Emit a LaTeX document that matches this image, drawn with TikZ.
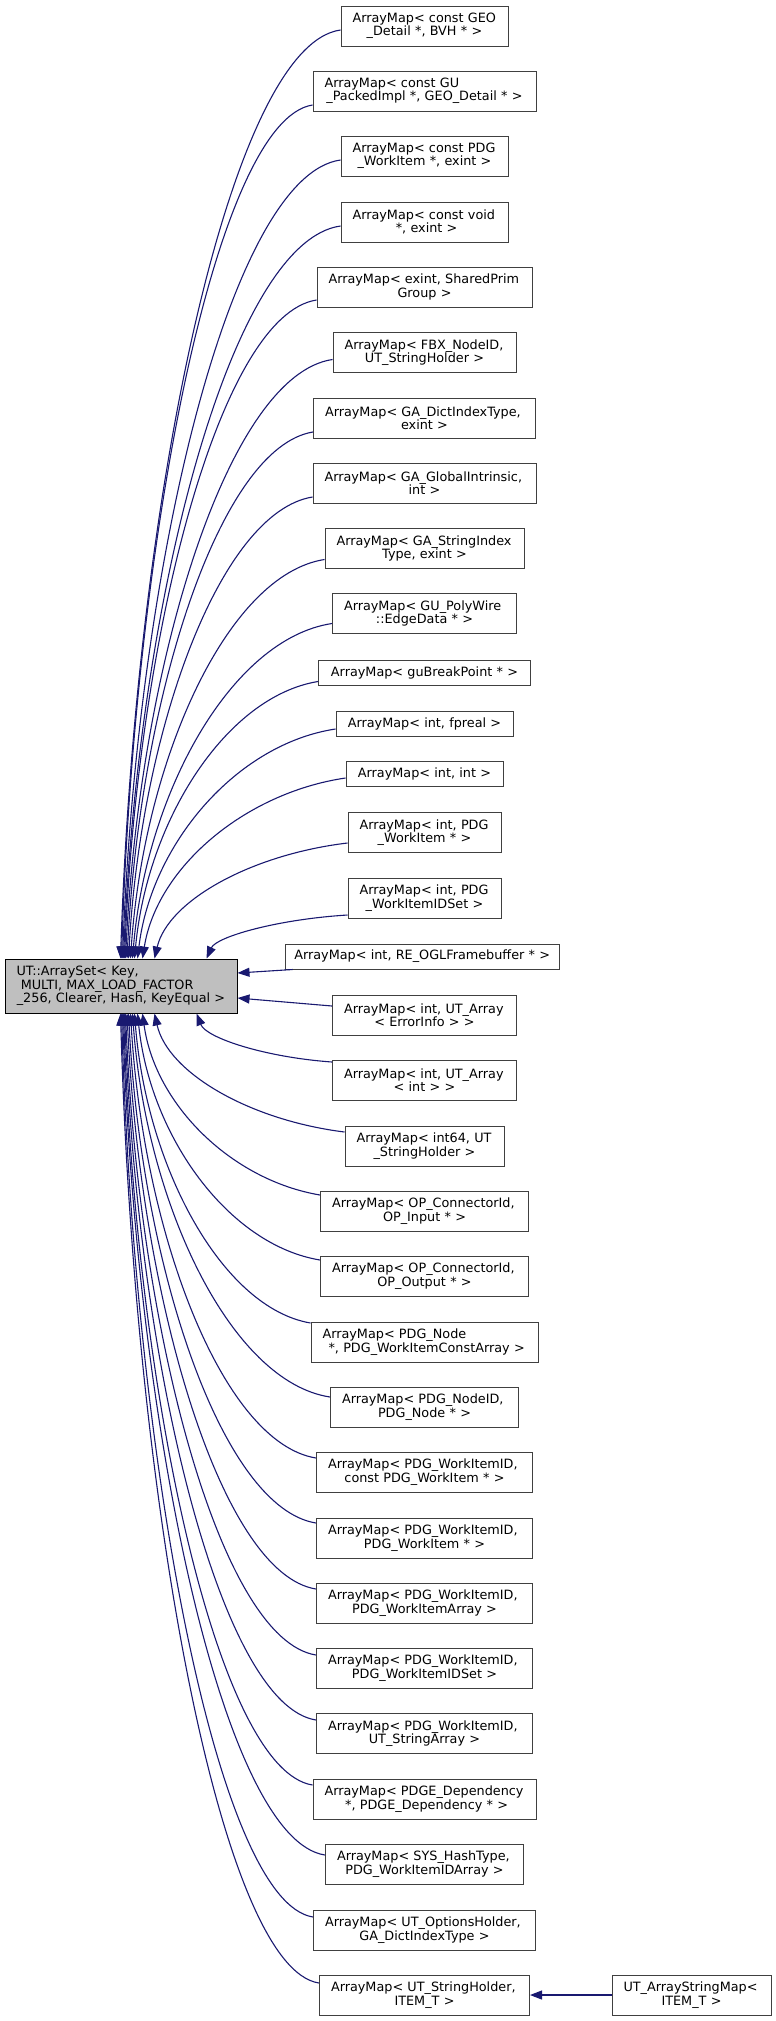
\documentclass[tikz,border=0pt]{standalone}
\usepackage{fontspec}
\setmainfont{DejaVu Sans}
\usetikzlibrary{arrows.meta,calc}
\definecolor{navy}{HTML}{191970}
\definecolor{boxgray}{HTML}{404040}
\definecolor{mainfill}{HTML}{BFBFBF}
\newcommand\LLine[1]{\makebox[\hsize][l]{#1}}
\newcommand\CLine[1]{\makebox[\hsize][c]{#1}}
\tikzset{
  cls/.style={draw=boxgray, line width=1pt, fill=white, inner sep=0pt, minimum height=40pt, align=left, font=\fontsize{12.8}{13.5}\selectfont},
  one/.style={minimum height=25pt},
  bw/.code={\pgfmathsetmacro\tw{#1-23}\edef\tmp{\noexpand\tikzset{minimum width=#1pt, text width=\tw pt}}\tmp},
  root/.style={cls, draw=black, fill=mainfill, minimum height=54pt},
  edge/.style={draw=navy, line width=1.1pt, -{Triangle[length=12pt,width=9pt]}}
}
\newcommand\upedge[3]{\draw[edge] let \p1=([yshift=#2pt]#1.west), \p2=([xshift=#3pt]main.north west) in (\p1) .. controls ({\x1-0.5*(\x1-\x2)},{\y1-min(15pt,0.1*(\y1-\y2))}) and ({\x2+0.07*(\x1-\x2)},{0.5*(\y1+\y2)}) .. (\p2);}
\newcommand\downedge[3]{\draw[edge] let \p1=([yshift=#2pt]#1.west), \p2=([xshift=#3pt]main.south west) in (\p1) .. controls ({\x1-0.5*(\x1-\x2)},{\y1+min(15pt,0.1*(\y2-\y1))}) and ({\x2+0.07*(\x1-\x2)},{0.5*(\y1+\y2)}) .. (\p2);}
\begin{document}
\begin{tikzpicture}[x=1pt,y=-1pt]
\path[use as bounding box] (0,0) rectangle (776,2021);
\node[root, bw=232] (main) at (121,986) {\LLine{UT::ArraySet< Key,}\\\LLine{\ MULTI, MAX\_LOAD\_FACTOR}\\\CLine{\_256, Clearer, Hash, KeyEqual >}};
\node[cls, bw=167] (b1) at (424.5,26) {\LLine{ArrayMap< const GEO}\\\CLine{\_Detail *, BVH * >}};
\node[cls, bw=223] (b2) at (424.5,91) {\LLine{ArrayMap< const GU}\\\CLine{\_PackedImpl *, GEO\_Detail * >}};
\node[cls, bw=167] (b3) at (424.5,156) {\LLine{ArrayMap< const PDG}\\\CLine{\_WorkItem *, exint >}};
\node[cls, bw=167] (b4) at (424.5,222) {\LLine{ArrayMap< const void}\\\CLine{\ *, exint >}};
\node[cls, bw=215] (b5) at (424.5,287) {\LLine{ArrayMap< exint, SharedPrim}\\\CLine{Group >}};
\node[cls, bw=183] (b6) at (424.5,352.5) {\LLine{ArrayMap< FBX\_NodeID,}\\\CLine{UT\_StringHolder >}};
\node[cls, bw=222] (b7) at (424.5,418) {\LLine{ArrayMap< GA\_DictIndexType,}\\\CLine{exint >}};
\node[cls, bw=223] (b8) at (424.5,483) {\LLine{ArrayMap< GA\_GlobalIntrinsic,}\\\CLine{int >}};
\node[cls, bw=199] (b9) at (424.5,548.5) {\LLine{ArrayMap< GA\_StringIndex}\\\CLine{Type, exint >}};
\node[cls, bw=184] (b10) at (424.5,613.5) {\LLine{ArrayMap< GU\_PolyWire}\\\CLine{::EdgeData * >}};
\node[cls, one, bw=212] (b11) at (424.5,672.5) {\CLine{ArrayMap< guBreakPoint * >}};
\node[cls, one, bw=177] (b12) at (424.5,723.5) {\CLine{ArrayMap< int, fpreal >}};
\node[cls, one, bw=157] (b13) at (424.5,774) {\CLine{ArrayMap< int, int >}};
\node[cls, bw=153] (b14) at (424.5,832.5) {\LLine{ArrayMap< int, PDG}\\\CLine{\_WorkItem * >}};
\node[cls, bw=153] (b15) at (424.5,898) {\LLine{ArrayMap< int, PDG}\\\CLine{\_WorkItemIDSet >}};
\node[cls, one, bw=274] (b16) at (422.2,956.5) {\CLine{ArrayMap< int, RE\_OGLFramebuffer * >}};
\node[cls, bw=184] (b17) at (424.5,1015) {\LLine{ArrayMap< int, UT\_Array}\\\CLine{< ErrorInfo > >}};
\node[cls, bw=184] (b18) at (424.5,1080) {\LLine{ArrayMap< int, UT\_Array}\\\CLine{< int > >}};
\node[cls, bw=159] (b19) at (424.5,1146) {\LLine{ArrayMap< int64, UT}\\\CLine{\_StringHolder >}};
\node[cls, bw=208] (b20) at (424.5,1211) {\LLine{ArrayMap< OP\_ConnectorId,}\\\CLine{OP\_Input * >}};
\node[cls, bw=208] (b21) at (424.5,1276) {\LLine{ArrayMap< OP\_ConnectorId,}\\\CLine{OP\_Output * >}};
\node[cls, bw=227] (b22) at (424.5,1342) {\LLine{ArrayMap< PDG\_Node}\\\CLine{\ *, PDG\_WorkItemConstArray >}};
\node[cls, bw=188] (b23) at (424.5,1407) {\LLine{ArrayMap< PDG\_NodeID,}\\\CLine{PDG\_Node * >}};
\node[cls, bw=216] (b24) at (424.5,1472) {\LLine{ArrayMap< PDG\_WorkItemID,}\\\CLine{const PDG\_WorkItem * >}};
\node[cls, bw=216] (b25) at (424.5,1538) {\LLine{ArrayMap< PDG\_WorkItemID,}\\\CLine{PDG\_WorkItem * >}};
\node[cls, bw=216] (b26) at (424.5,1603) {\LLine{ArrayMap< PDG\_WorkItemID,}\\\CLine{PDG\_WorkItemArray >}};
\node[cls, bw=216] (b27) at (424.5,1668) {\LLine{ArrayMap< PDG\_WorkItemID,}\\\CLine{PDG\_WorkItemIDSet >}};
\node[cls, bw=216] (b28) at (424.5,1733.5) {\LLine{ArrayMap< PDG\_WorkItemID,}\\\CLine{UT\_StringArray >}};
\node[cls, bw=223] (b29) at (424.5,1799) {\LLine{ArrayMap< PDGE\_Dependency}\\\CLine{\ *, PDGE\_Dependency * >}};
\node[cls, bw=198] (b30) at (424.5,1864) {\LLine{ArrayMap< SYS\_HashType,}\\\CLine{PDG\_WorkItemIDArray >}};
\node[cls, bw=222] (b31) at (424.5,1930) {\LLine{ArrayMap< UT\_OptionsHolder,}\\\CLine{GA\_DictIndexType >}};
\node[cls, bw=210] (b32) at (424.5,1995) {\LLine{ArrayMap< UT\_StringHolder,}\\\CLine{ITEM\_T >}};
\node[cls, bw=159] (b33) at (691.5,1995) {\LLine{UT\_ArrayStringMap<}\\\CLine{ITEM\_T >}};
% edges into top of main
\upedge{b1}{-4}{116}
\upedge{b2}{-14}{117}
\upedge{b3}{-4}{118}
\upedge{b4}{-4}{119}
\upedge{b5}{-13}{120}
\upedge{b6}{-7}{121}
\upedge{b7}{-14}{122.5}
\upedge{b8}{-14}{124}
\upedge{b9}{-11}{126}
\upedge{b10}{-10}{128}
\upedge{b11}{-9}{130}
\upedge{b12}{-5.5}{133}
\upedge{b13}{-4}{138}
\upedge{b14}{-10.5}{150}
\upedge{b15}{-17}{202}
% edges into right side of main
\draw[edge] ([xshift=8pt]b16.south west) -- ([yshift=13pt]main.east);
\draw[edge] ([yshift=9pt]b17.west) -- ([yshift=-12pt]main.east);
% edges into bottom of main
\downedge{b18}{18}{192}
\downedge{b19}{14}{150}
\downedge{b20}{16}{138}
\downedge{b21}{16}{133}
\downedge{b22}{19}{130}
\downedge{b23}{10}{128}
\downedge{b24}{14}{126}
\downedge{b25}{15}{124}
\downedge{b26}{14}{122.5}
\downedge{b27}{13}{121}
\downedge{b28}{13.5}{120}
\downedge{b29}{14}{119}
\downedge{b30}{9}{118}
\downedge{b31}{13}{117}
\downedge{b32}{12}{116}
% derived template
\draw[edge] (b33.west) -- (b32.east);
\end{tikzpicture}
\end{document}
